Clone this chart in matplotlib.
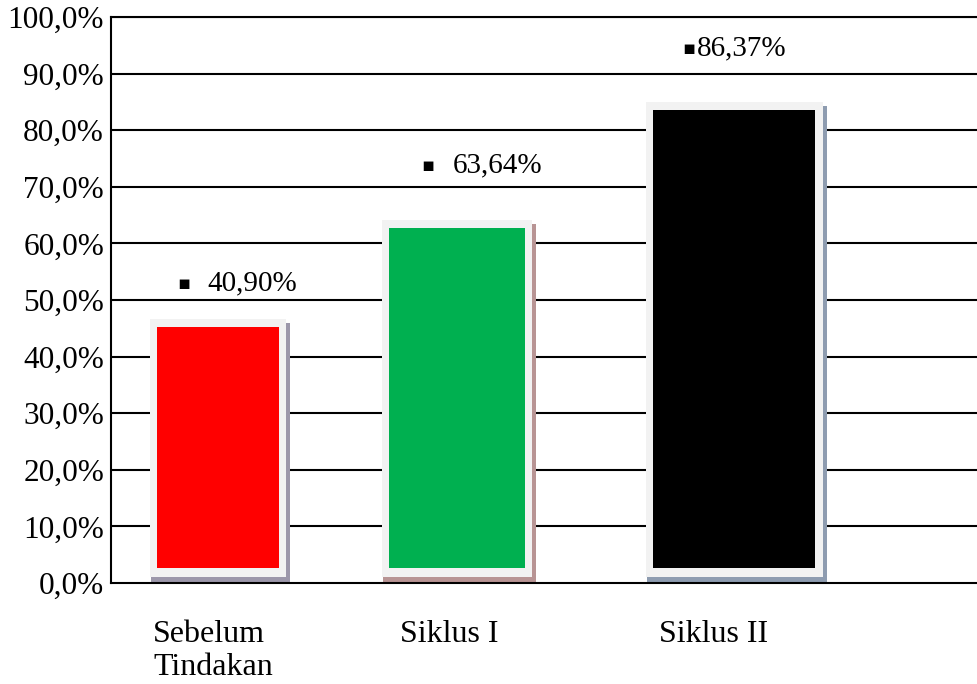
import matplotlib.pyplot as plt
from matplotlib.patches import Rectangle

# data
categories = ["Sebelum\nTindakan", "Siklus I", "Siklus II"]
value_labels = ["40,90%", "63,64%", "86,37%"]
bar_tops = [46.6, 64.1, 85.0]          # drawn height of the bars (%)
bar_colors = ["#ff0000", "#00b050", "#000000"]
shadow_colors = ["#9c97aa", "#b89494", "#8e9cb0"]
yticks = list(range(0, 101, 10))

# layout
bar_pos = [0.0, 1.0, 2.16]
bar_w = [0.57, 0.63, 0.74]
cat_dx = [0.013, 0.075, 0.055]          # category label offset from bar left
label_dy = [36, 55, 53]                 # px above frame top
marker_dx = [-41, -36, -52]             # px from bar centre
text_dx = [-11, -4, -37]

plt.rcParams['font.family'] = ['Liberation Serif', 'DejaVu Serif']

fig = plt.figure(figsize=(9.78, 6.84), dpi=100)
ax = fig.add_axes([0.1135, 0.1477, 0.8865, 0.8275])
ax.set_xlim(-0.448, 3.18)
ax.set_ylim(0, 100)

for y in yticks[1:]:
    ax.axhline(y, color='black', lw=1.5, zorder=1)

bx = 0.03      # frame border, x units
by = 1.5       # frame border, y units
base = 1.06    # frame lifted above the axis
for x, w, top, c, sc in zip(bar_pos, bar_w, bar_tops, bar_colors, shadow_colors):
    left = x - w / 2
    ax.add_patch(Rectangle((left + 0.005, 0), w + 0.012, top - 0.7,
                           facecolor=sc, edgecolor='none', zorder=2))
    ax.add_patch(Rectangle((left, base), w, top - base,
                           facecolor='#f2f2f2', edgecolor='none', zorder=3))
    ax.add_patch(Rectangle((left + bx, base + by), w - 2 * bx, top - base - 2 * by + 0.1,
                           facecolor=c, edgecolor='none', zorder=4))

for i, x in enumerate(bar_pos):
    ax.annotate('\u25aa', xy=(x, bar_tops[i]), xytext=(marker_dx[i], label_dy[i]),
                textcoords='offset pixels', ha='left', va='center',
                fontsize=14, family=['DejaVu Sans'])
    ax.annotate(value_labels[i], xy=(x, bar_tops[i]), xytext=(text_dx[i], label_dy[i]),
                textcoords='offset pixels', ha='left', va='center', fontsize=21)

ax.set_yticks(yticks)
ax.set_yticklabels([f"{v},0%" for v in yticks], fontsize=22.5)
ax.tick_params(axis='y', length=0, pad=5)

ax.set_xticks([x - w / 2 + d for x, w, d in zip(bar_pos, bar_w, cat_dx)])
ax.set_xticklabels(categories, fontsize=23, ha='left', va='top', linespacing=1.15)
ax.tick_params(axis='x', length=0, pad=27)

ax.spines['right'].set_visible(False)
for s in ['left', 'top', 'bottom']:
    ax.spines[s].set_linewidth(1.5)

fig.savefig('out.png', dpi=100)
